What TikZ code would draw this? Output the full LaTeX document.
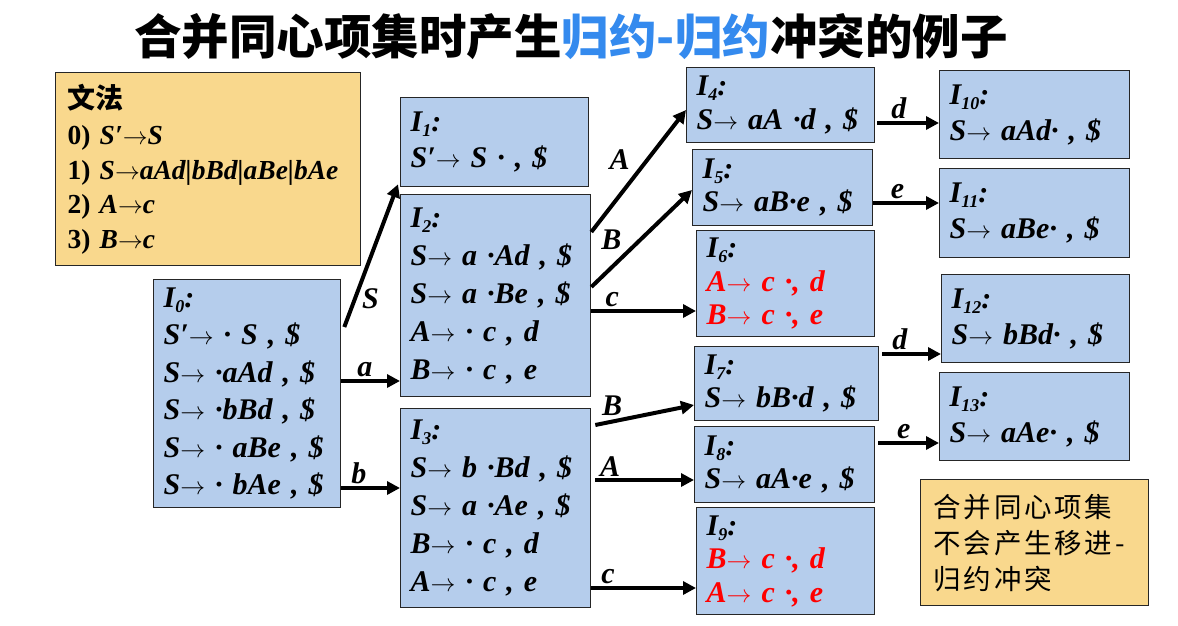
\documentclass[tikz,border=0pt]{standalone}
\usepackage{fontspec}
\setmainfont{Liberation Serif}
\newfontfamily\cjk{Noto Sans CJK SC}
\newfontfamily\cjkspaced[LetterSpace=10]{Noto Sans CJK SC}
\usepackage{tikz}
\usetikzlibrary{arrows.meta,positioning,calc}
\definecolor{setblue}{RGB}{181,205,236}
\definecolor{gramfill}{RGB}{249,216,141}
\definecolor{titleblue}{RGB}{52,138,238}
\newcommand\Iset[1]{I\raisebox{-5pt}{\fontsize{18}{18}\selectfont #1}:}
\newcommand\goes{$\rightarrow$}
\tikzset{
  >=Stealth,
  every picture/.append style={line width=0.6pt},
}
\tikzset{
  setbox/.style={draw=black!85, line width=1.3pt, fill=setblue, anchor=north west,
                 align=left, inner xsep=10pt, inner ysep=3pt,
                 font=\fontsize{30}{38}\selectfont\bfseries\itshape},
  arrow/.style={-{Triangle[length=13pt,width=13pt]}, line width=4pt},
  sym/.style={font=\fontsize{30}{30}\selectfont\bfseries\itshape, inner sep=2pt}
}

\begin{document}
\begin{tikzpicture}[
  x=1pt, y=-1pt,
  gram/.style={draw=black!85, line width=1.3pt, fill=gramfill, anchor=north west,
               align=left, inner xsep=12pt, inner ysep=3pt,
               font=\fontsize{27.5}{34.5}\selectfont\bfseries},
  tight/.style={font=\fontsize{30}{33.5}\selectfont\bfseries\itshape},
  wide/.style={font=\fontsize{30}{36}\selectfont\bfseries\itshape}
]
\useasboundingbox (0,0) rectangle (1178,626);

% Title
\node[font=\cjk\bfseries\fontsize{47.5}{47.5}\selectfont] (title) at (571,37)
  {合并同心项集时产生\textcolor{titleblue}{归约-归约}冲突的例子};

% Grammar and note
\node[gram, text width=281pt, minimum height=193pt] (grammar) at (55,72)
  {{\cjk\fontsize{28}{38}\selectfont 文法}\\[2pt]
   0) \textit{S′\goes S}\\
   1) \textit{S\goes aAd|bBd|aBe|bAe}\\
   2) \textit{A\goes c}\\
   3) \textit{B\goes c}};
\node[gram, text width=202pt, minimum height=126pt, inner xsep=13pt,
      font=\cjkspaced\fontsize{27.5}{36}\selectfont] (note) at (920,479)
  {合并同心项集\\不会产生移进-\\归约冲突};

% Item sets, first column
\node[setbox, text width=167pt, minimum height=228pt, font=\fontsize{30}{37.5}\selectfont\bfseries\itshape] (i0) at (153,279)
  {\Iset{0}\\ S′\goes{} · S , \$\\ S\goes{} ·aAd , \$\\ S\goes{} ·bBd , \$\\ S\goes{} · aBe , \$\\ S\goes{} · bAe , \$};

% Item sets, second column
\node[setbox, text width=168pt, minimum height=89pt, wide] (i1) at (400,97)
  {\Iset{1}\\ S′\goes{} S · , \$};
\node[setbox, text width=170pt, minimum height=202pt] (i2) at (400,194)
  {\Iset{2}\\ S\goes{} a ·Ad , \$\\ S\goes{} a ·Be , \$\\ A\goes{} · c , d\\ B\goes{} · c , e};
\node[setbox, text width=170pt, minimum height=199pt] (i3) at (400,408)
  {\Iset{3}\\ S\goes{} b ·Bd , \$\\ S\goes{} a ·Ae , \$\\ B\goes{} · c , d\\ A\goes{} · c , e};

% Item sets, third column
\node[setbox, text width=168pt, minimum height=75pt, tight] (i4) at (686,67)
  {\Iset{4}\\ S\goes{} aA ·d , \$};
\node[setbox, text width=160pt, minimum height=76pt, tight] (i5) at (692,149)
  {\Iset{5}\\ S\goes{} aB·e , \$};
\node[setbox, text width=158pt, minimum height=106pt, tight] (i6) at (696,230)
  {\Iset{6}\\ \textcolor{red}{A\goes{} c ·, d}\\ \textcolor{red}{B\goes{} c ·, e}};
\node[setbox, text width=164pt, minimum height=74pt, tight] (i7) at (694,346)
  {\Iset{7}\\ S\goes{} bB·d , \$};
\node[setbox, text width=160pt, minimum height=76pt, tight] (i8) at (694,426)
  {\Iset{8}\\ S\goes{} aA·e , \$};
\node[setbox, text width=158pt, minimum height=107pt, tight] (i9) at (696,507)
  {\Iset{9}\\ \textcolor{red}{B\goes{} c ·, d}\\ \textcolor{red}{A\goes{} c ·, e}};

% Item sets, fourth column
\node[setbox, text width=170pt, minimum height=88pt, wide] (i10) at (939,70)
  {\Iset{10}\\ S\goes{} aAd· , \$};
\node[setbox, text width=170pt, minimum height=89pt, wide] (i11) at (939,168)
  {\Iset{11}\\ S\goes{} aBe· , \$};
\node[setbox, text width=168pt, minimum height=88pt, wide] (i12) at (941,274)
  {\Iset{12}\\ S\goes{} bBd· , \$};
\node[setbox, text width=170pt, minimum height=88pt, wide] (i13) at (939,372)
  {\Iset{13}\\ S\goes{} aAe· , \$};

% Transitions from I0
\draw[arrow] ([xshift=3pt,yshift=-48pt]i0.north east) -- node[sym, pos=0.2, right=3pt] {S} ([xshift=-2pt,yshift=3pt]i1.south west);
\draw[arrow] ([yshift=-102pt]i0.north east) -- node[sym, pos=0.4, above] {a} ([yshift=-187pt]i2.north west);
\draw[arrow] ([yshift=-209pt]i0.north east) -- node[sym, pos=0.3, above] {b} ([yshift=-80pt]i3.north west);

% Transitions from I2 and I3
\draw[arrow] ([yshift=-38pt]i2.north east) -- node[sym, pos=0.3, above=22pt] {A} ([yshift=-43pt]i4.north west);
\draw[arrow] ([yshift=-93pt]i2.north east) -- node[sym, pos=0.2, above=14pt] {B} ([yshift=-41pt]i5.north west);
\draw[arrow] ([yshift=-117pt]i2.north east) -- node[sym, pos=0.2, above] {c} ([yshift=-81pt]i6.north west);
\draw[arrow] ([xshift=4pt,yshift=-17pt]i3.north east) -- node[sym, pos=0.17, above=2pt] {B} ([yshift=-59pt]i7.north west);
\draw[arrow] ([xshift=4pt,yshift=-72pt]i3.north east) -- node[sym, pos=0.15, above] {A} ([yshift=-54pt]i8.north west);
\draw[arrow] ([yshift=-180pt]i3.north east) -- node[sym, pos=0.16, above] {c} ([yshift=-81pt]i9.north west);

% Transitions to the last column
\draw[arrow] ([xshift=2pt,yshift=-56pt]i4.north east) -- node[sym, pos=0.35, above] {d} ([yshift=-53pt]i10.north west);
\draw[arrow] ([yshift=-54pt]i5.north east) -- node[sym, pos=0.37, above] {e} ([yshift=-35pt]i11.north west);
\draw[arrow] ([xshift=3pt,yshift=-8pt]i7.north east) -- node[sym, pos=0.3, above] {d} ([yshift=-80pt]i12.north west);
\draw[arrow] ([xshift=3pt,yshift=-17pt]i8.north east) -- node[sym, pos=0.42, above] {e} ([yshift=-71pt]i13.north west);

\end{tikzpicture}
\end{document}
